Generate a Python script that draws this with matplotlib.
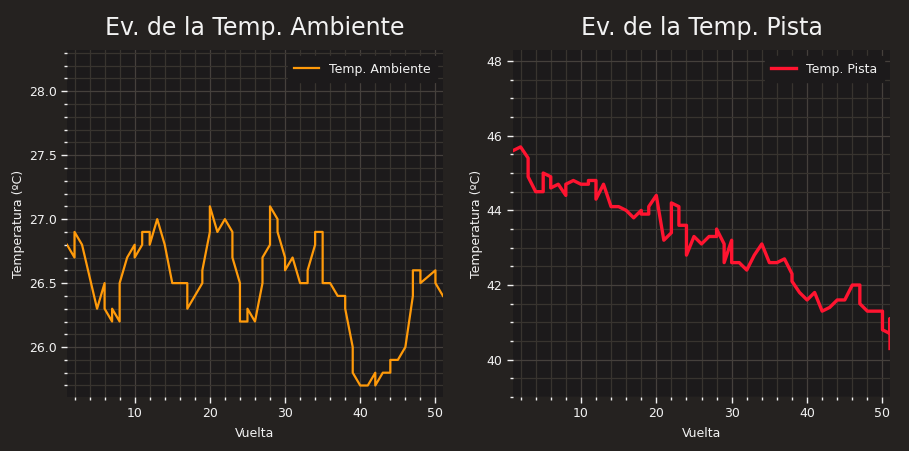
import matplotlib
matplotlib.use('Agg')
import matplotlib.pyplot as plt
from matplotlib.ticker import MultipleLocator

# ── Data (lap, value) pairs; repeated laps give the vertical steps ──────────
laps_amb = [1, 2, 2, 3, 5, 6, 6, 7, 7, 8, 8, 9, 10, 10, 11, 11, 12, 12, 13, 14,
            15, 17, 17, 19, 19, 20, 20, 21, 22, 23, 23, 24, 24, 25, 25, 26, 27,
            27, 28, 28, 29, 29, 30, 30, 31, 32, 33, 33, 34, 34, 35, 35, 36, 37,
            38, 38, 39, 39, 40, 41, 42, 42, 43, 44, 44, 45, 46, 47, 47, 48, 48,
            50, 50, 51]
temp_amb = [26.8, 26.7, 26.9, 26.8, 26.3, 26.5, 26.3, 26.2, 26.3, 26.2, 26.5,
            26.7, 26.8, 26.7, 26.8, 26.9, 26.9, 26.8, 27.0, 26.8, 26.5, 26.5,
            26.3, 26.5, 26.6, 26.9, 27.1, 26.9, 27.0, 26.9, 26.7, 26.5, 26.2,
            26.2, 26.3, 26.2, 26.5, 26.7, 26.8, 27.1, 27.0, 26.9, 26.7, 26.6,
            26.7, 26.5, 26.5, 26.6, 26.8, 26.9, 26.9, 26.5, 26.5, 26.4, 26.4,
            26.3, 26.0, 25.8, 25.7, 25.7, 25.8, 25.7, 25.8, 25.8, 25.9, 25.9,
            26.0, 26.4, 26.6, 26.6, 26.5, 26.6, 26.5, 26.4]

laps_pista = [1, 2, 3, 3, 4, 5, 5, 6, 6, 7, 8, 8, 9, 10, 11, 11, 12, 12, 13, 14,
              15, 16, 17, 18, 18, 19, 19, 20, 21, 22, 22, 23, 23, 24, 24, 25, 26,
              27, 28, 28, 29, 29, 30, 30, 31, 32, 33, 34, 35, 36, 37, 38, 38, 39,
              40, 41, 42, 43, 44, 45, 46, 47, 47, 48, 50, 50, 51, 51, 51]
temp_pista = [45.6, 45.7, 45.4, 44.9, 44.5, 44.5, 45.0, 44.9, 44.6, 44.7, 44.4,
              44.7, 44.8, 44.7, 44.7, 44.8, 44.8, 44.3, 44.7, 44.1, 44.1, 44.0,
              43.8, 44.0, 43.9, 43.9, 44.1, 44.4, 43.2, 43.4, 44.2, 44.1, 43.6,
              43.6, 42.8, 43.3, 43.1, 43.3, 43.3, 43.5, 43.1, 42.6, 43.2, 42.6,
              42.6, 42.4, 42.8, 43.1, 42.6, 42.6, 42.7, 42.3, 42.1, 41.8, 41.6,
              41.8, 41.3, 41.4, 41.6, 41.6, 42.0, 42.0, 41.5, 41.3, 41.3, 40.8,
              40.7, 41.1, 40.3]

# ── Style ───────────────────────────────────────────────────────────────────
FIG_BG  = '#252220'
AX_BG   = '#1c1a1b'
GRID    = '#38342f'
TXT     = '#f2f2f2'

fig = plt.figure(figsize=(9.09, 4.51), dpi=100)
fig.patch.set_facecolor(FIG_BG)

ax1 = fig.add_axes([0.0737, 0.1197, 0.4136, 0.769])
ax2 = fig.add_axes([0.5644, 0.1197, 0.4147, 0.769])

panels = [
    (ax1, laps_amb, temp_amb, '#ff9a0a', 1.6, 'Temp. Ambiente',
     'Ev. de la Temp. Ambiente', (25.61, 28.32), 0.5, 0.1),
    (ax2, laps_pista, temp_pista, '#ff1430', 2.4, 'Temp. Pista',
     'Ev. de la Temp. Pista', (39.0, 48.29), 2, 0.5),
]

for ax, x, y, col, lw, lab, title, ylim, ymaj, ymin in panels:
    ax.set_facecolor(AX_BG)
    ax.plot(x, y, color=col, lw=lw, label=lab)
    ax.set_xlim(1, 51)
    ax.set_ylim(*ylim)
    ax.xaxis.set_major_locator(MultipleLocator(10))
    ax.xaxis.set_minor_locator(MultipleLocator(2))
    ax.yaxis.set_major_locator(MultipleLocator(ymaj))
    ax.yaxis.set_minor_locator(MultipleLocator(ymin))
    ax.grid(which='major', color='#45403c', lw=0.9)
    ax.grid(which='minor', color=GRID, lw=0.9)
    ax.set_axisbelow(True)
    for s in ax.spines.values():
        s.set_visible(False)
    ax.tick_params(which='major', colors=TXT, labelsize=9, length=4, width=1)
    ax.tick_params(which='minor', colors=TXT, length=2.5, width=1)
    ax.set_title(title, color=TXT, fontsize=17, pad=11)
    ax.set_xlabel('Vuelta', color=TXT, fontsize=9, labelpad=5)
    ax.set_ylabel('Temperatura (ºC)', color=TXT, fontsize=9, labelpad=2.5)
    leg = ax.legend(loc='upper right', fontsize=9, facecolor=AX_BG,
                    edgecolor=AX_BG, framealpha=1, borderpad=0.5)
    for t in leg.get_texts():
        t.set_color(TXT)

plt.savefig('out.png', dpi=100, facecolor=FIG_BG)
